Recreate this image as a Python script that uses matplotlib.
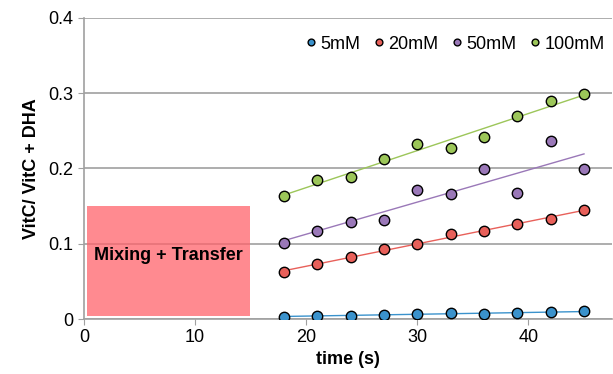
import matplotlib
matplotlib.use('Agg')
import matplotlib.pyplot as plt
import numpy as np
from matplotlib.patches import Rectangle

plt.rcParams['font.family'] = ['Liberation Sans', 'DejaVu Sans']

# data
time = [18, 21, 24, 27, 30, 33, 36, 39, 42, 45]
labels = ['5mM', '20mM', '50mM', '100mM']
c5 = [0.003, 0.0044, 0.0046, 0.006, 0.0066, 0.008, 0.007, 0.0075, 0.009, 0.0106]
c20 = [0.062, 0.073, 0.082, 0.0925, 0.100, 0.113, 0.1165, 0.126, 0.133, 0.145]
c50 = [0.1005, 0.117, 0.129, 0.132, 0.171, 0.166, 0.199, 0.167, 0.237, 0.199]
c100 = [0.164, 0.185, 0.189, 0.213, 0.233, 0.227, 0.242, 0.270, 0.290, 0.299]
colors = ['#3a92cc', '#e8605a', '#9a78b8', '#9cc659']

fig = plt.figure(figsize=(6.13, 3.74), dpi=100)
ax = fig.add_axes([0.137, 0.147, 0.861, 0.805])

# mixing box
ax.add_patch(Rectangle((0.3, 0.004), 14.6, 0.146, facecolor='#ff636b',
                       alpha=0.75, edgecolor='none', zorder=1))
ax.text(7.6, 0.085, 'Mixing + Transfer', ha='center', va='center',
        fontsize=13, fontweight='bold', zorder=2)

t = np.array(time)
for y, c, lab in zip([c5, c20, c50, c100], colors, labels):
    p = np.polyfit(t, y, 1)
    ax.plot([t[0], t[-1]], np.polyval(p, [t[0], t[-1]]), color=c, lw=1, zorder=3)
    ax.plot(t, y, 'o', color=c, mec='black', mew=1, ms=7.5, zorder=4, label=lab)

ax.set_xlim(0, 47.5)
ax.set_ylim(0, 0.4)
ax.set_xticks([0, 10, 20, 30, 40])
ax.set_yticks([0, 0.1, 0.2, 0.3, 0.4])
ax.set_yticklabels(['0', '0.1', '0.2', '0.3', '0.4'])
ax.grid(axis='y', color='#a0a0a0', lw=1.2, zorder=0)
ax.set_axisbelow(True)
for s in ['top', 'right']:
    ax.spines[s].set_visible(False)
ax.spines['left'].set_color('#a0a0a0')
ax.spines['bottom'].set_color('#a0a0a0')
ax.spines['left'].set_linewidth(1.2)
ax.spines['bottom'].set_linewidth(1.2)
ax.tick_params(colors='#a0a0a0', labelcolor='black', labelsize=13, length=4)
ax.set_xlabel('time (s)', fontsize=13, fontweight='bold', labelpad=3)
ax.set_ylabel('VitC/ VitC + DHA', fontsize=13, fontweight='bold', labelpad=6)

leg = ax.legend(loc='upper right', ncol=4, frameon=False, fontsize=13,
                markerscale=0.65, handlelength=0.6, handletextpad=0.2,
                columnspacing=0.75, bbox_to_anchor=(1.0, 0.965), borderaxespad=0)

fig.savefig('out.png', dpi=100)
